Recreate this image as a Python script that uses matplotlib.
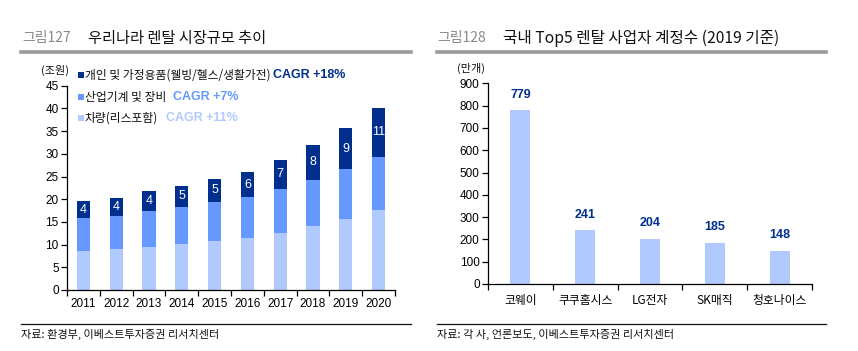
import matplotlib
matplotlib.use("Agg")
import matplotlib.pyplot as plt
from matplotlib.lines import Line2D
import numpy as np

# ---------------- data ----------------
years = ["2011", "2012", "2013", "2014", "2015", "2016", "2017", "2018", "2019", "2020"]
vehicle = [8.55, 9.0, 9.4, 10.1, 10.7, 11.4, 12.5, 14.0, 15.6, 17.6]
industrial = [7.25, 7.3, 8.1, 8.2, 8.7, 9.0, 9.7, 10.3, 11.0, 11.8]
household = [3.7, 4.0, 4.3, 4.7, 5.1, 5.5, 6.5, 7.6, 9.1, 10.7]
household_labels = ["4", "4", "4", "5", "5", "6", "7", "8", "9", "11"]

companies = ["코웨이", "쿠쿠홈시스", "LG전자", "SK매직", "청호나이스"]
accounts = [779, 241, 204, 185, 148]

legend_names = ["개인 및 가정용품(웰빙/헬스/생활가전)", "산업기계 및 장비", "차량(리스포함)"]
legend_cagr = ["CAGR +18%", "CAGR +7%", "CAGR +11%"]

# ---------------- style ----------------
C_DARK = "#002f8e"
C_MID = "#6699ff"
C_LIGHT = "#b0caff"
KR = ["Noto Sans CJK KR", "DejaVu Sans"]
NUM = ["Liberation Sans Narrow", "Liberation Sans", "DejaVu Sans"]

W, H = 858, 351
fig = plt.figure(figsize=(W / 100, H / 100), dpi=100)
fig.patch.set_facecolor("white")


def fx(px):
    return px / W


def fy(py):
    return 1 - py / H


def style_axes(ax):
    for s in ["top", "right"]:
        ax.spines[s].set_visible(False)
    ax.spines["left"].set_linewidth(0.9)
    ax.spines["bottom"].set_linewidth(0.9)
    ax.tick_params(axis="y", direction="out", length=4, width=0.9, pad=2)
    for lab in ax.get_yticklabels():
        lab.set_family(NUM)
        lab.set_fontsize(8.5)


# ---------------- left chart ----------------
axL = fig.add_axes([fx(67), fy(290), fx(395 - 67), (290 - 85.7) / H])
x = np.arange(len(years))
bw = 0.4
axL.bar(x, vehicle, bw, color=C_LIGHT, linewidth=0)
axL.bar(x, industrial, bw, bottom=vehicle, color=C_MID, linewidth=0)
bot2 = np.array(vehicle) + np.array(industrial)
axL.bar(x, household, bw, bottom=bot2, color=C_DARK, linewidth=0)
for xi, b, h, lab in zip(x, bot2, household, household_labels):
    axL.text(xi, b + h / 2, lab, ha="center", va="center", color="white",
             fontsize=9, family=NUM)
axL.set_xlim(-0.5, len(years) - 0.5)
axL.set_ylim(0, 45)
axL.set_yticks(np.arange(0, 46, 5))
axL.set_xticks(np.arange(-0.5, len(years), 1))
axL.set_xticklabels([])
axL.set_xticks(x, minor=True)
axL.set_xticklabels(years, minor=True)
axL.tick_params(axis="x", which="major", direction="out", length=4, width=0.9)
axL.tick_params(axis="x", which="minor", length=0, pad=6)
for lab in axL.get_xticklabels(minor=True):
    lab.set_family(NUM)
    lab.set_fontsize(8.5)
style_axes(axL)

# ---------------- right chart ----------------
axR = fig.add_axes([fx(488), fy(284), fx(812 - 488), (284 - 83.3) / H])
xr = np.arange(len(companies))
axR.bar(xr, accounts, 0.31, color=C_LIGHT, linewidth=0)
for xi, v in zip(xr, accounts):
    axR.annotate(str(v), (xi, v), xytext=(0, 7), textcoords="offset points",
                 ha="center", va="bottom", color=C_DARK, fontsize=9,
                 fontweight="bold", family=NUM)
axR.set_xlim(-0.5, len(companies) - 0.5)
axR.set_ylim(0, 900)
axR.set_yticks(np.arange(0, 901, 100))
axR.set_xticks(np.arange(-0.5, len(companies), 1))
axR.set_xticklabels([])
axR.set_xticks(xr, minor=True)
axR.set_xticklabels(companies, minor=True)
axR.tick_params(axis="x", which="major", direction="out", length=4, width=0.9)
axR.tick_params(axis="x", which="minor", length=0, pad=7)
for lab in axR.get_xticklabels(minor=True):
    lab.set_family(KR)
    lab.set_fontsize(8.5)
style_axes(axR)

# ---------------- titles, rules, sources ----------------
fig.text(fx(22), fy(38), "그림127", family=KR, fontsize=10, color="#888888", va="center")
fig.text(fx(88), fy(38), "우리나라 렌탈 시장규모 추이", family=KR, fontsize=11,
         color="#111111", va="center", fontweight="medium")
fig.text(fx(437), fy(38), "그림128", family=KR, fontsize=10, color="#888888", va="center")
fig.text(fx(503), fy(38), "국내 Top5 렌탈 사업자 계정수 (2019 기준)", family=KR, fontsize=11.3,
         color="#111111", va="center", fontweight="medium")

for x0, x1 in [(21, 411), (437, 826)]:
    fig.add_artist(Line2D([fx(x0), fx(x1)], [fy(52), fy(52)], color="#9a9a9a", lw=2.6))
    fig.add_artist(Line2D([fx(x0), fx(x1)], [fy(324), fy(324)], color="#111111", lw=0.9))

fig.text(fx(21), fy(334), "자료: 환경부, 이베스트투자증권 리서치센터", family=KR, fontsize=8,
         color="#111111", va="center")
fig.text(fx(437), fy(334), "자료: 각 사, 언론보도, 이베스트투자증권 리서치센터", family=KR,
         fontsize=8, color="#111111", va="center")

# units
fig.text(fx(41), fy(70), "(조원)", family=KR, fontsize=8, color="#111111", va="center")
fig.text(fx(457), fy(68), "(만개)", family=KR, fontsize=8, color="#111111", va="center")

# legend (left chart)
leg_colors = [C_DARK, C_MID, C_LIGHT]
leg_y = [75, 97, 118]
cagr_x = [273, 173, 166]
for c, yy, name, cagr, cx in zip(leg_colors, leg_y, legend_names, legend_cagr, cagr_x):
    fig.patches.append(plt.Rectangle((fx(78), fy(yy + 3)), fx(6), 6 / H,
                                     transform=fig.transFigure, color=c, lw=0))
    fig.text(fx(85), fy(yy), name, family=KR, fontsize=8.5, color="#111111", va="center")
    fig.text(fx(cx), fy(yy), cagr, family=NUM, fontsize=9, color=c, va="center",
             fontweight="bold")

fig.savefig("out.png", dpi=100, facecolor="white")
